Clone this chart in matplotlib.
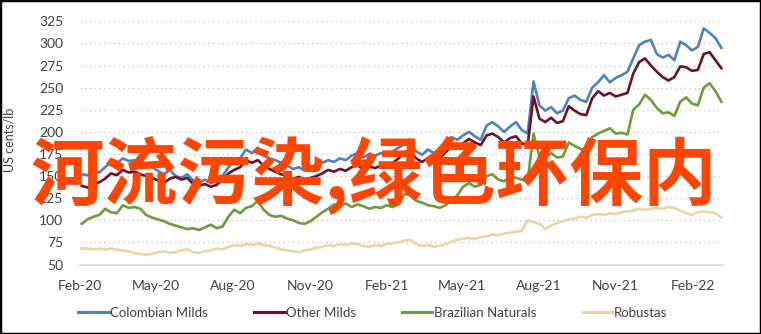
import matplotlib
matplotlib.use("Agg")
import matplotlib.pyplot as plt
import numpy as np
import pandas as pd
from matplotlib.patches import Rectangle

# ---------------- data (weekly readings, US cents/lb) ----------------
start_date = "2020-02-03"
n_weeks = 110

colombian_milds = [
    152, 151, 155, 154, 160, 166, 164, 170, 167, 168,
    165, 163, 160, 156, 152, 157, 150, 148, 152, 145,
    143, 146, 142, 145, 150, 160, 167, 170, 180, 176,
    182, 174, 170, 168, 165, 162, 158, 160, 156, 158,
    162, 165, 168, 166, 170, 168, 173, 176, 171, 175,
    173, 176, 174, 178, 182, 186, 187, 178, 174, 180,
    176, 180, 188, 194, 191, 196, 200, 195, 191, 207,
    211, 206, 200, 206, 211, 202, 198, 257, 230, 224,
    228, 221, 224, 238, 241, 236, 234, 250, 256, 264,
    256, 261, 264, 268, 283, 298, 302, 304, 288, 284,
    287, 281, 302, 298, 292, 296, 317, 312, 306, 295,
]

other_milds = [
    139, 137, 141, 143, 147, 153, 151, 157, 154, 155,
    152, 150, 148, 145, 142, 147, 149, 146, 148, 141,
    139, 141, 138, 140, 146, 153, 157, 160, 168, 165,
    168, 162, 158, 155, 152, 150, 147, 149, 146, 148,
    150, 153, 157, 155, 158, 156, 160, 162, 158, 161,
    159, 162, 160, 165, 170, 177, 178, 170, 166, 170,
    167, 170, 177, 183, 181, 187, 192, 188, 185, 196,
    198, 194, 188, 193, 195, 187, 185, 240, 215, 211,
    216, 210, 212, 229, 224, 220, 219, 238, 246, 241,
    244, 240, 242, 244, 266, 279, 283, 275, 268, 262,
    258, 262, 274, 273, 269, 270, 288, 290, 281, 272,
]

brazilian_naturals = [
    96, 101, 104, 106, 113, 109, 108, 117, 114, 115,
    113, 106, 103, 101, 99, 96, 94, 92, 90, 91,
    89, 92, 95, 91, 93, 104, 112, 108, 114, 116,
    122, 112, 106, 104, 105, 102, 100, 97, 96, 99,
    104, 109, 113, 118, 116, 119, 115, 118, 116, 113,
    115, 114, 117, 115, 118, 130, 128, 122, 120, 117,
    116, 114, 117, 123, 128, 138, 142, 138, 140, 150,
    152, 146, 144, 150, 148, 146, 145, 198, 172, 170,
    176, 171, 172, 188, 184, 181, 177, 194, 198, 201,
    204, 198, 199, 197, 225, 231, 242, 236, 227, 221,
    222, 218, 234, 239, 232, 230, 250, 255, 246, 234,
]

robustas = [
    68, 68, 67, 68, 67, 68, 67, 66, 65, 63,
    62, 61, 62, 64, 65, 63, 64, 66, 67, 64,
    63, 65, 66, 68, 67, 70, 72, 71, 73, 72,
    74, 72, 71, 69, 67, 66, 65, 64, 66, 67,
    69, 70, 72, 71, 73, 72, 74, 73, 71, 70,
    72, 71, 73, 74, 75, 77, 78, 73, 71, 72,
    70, 71, 73, 76, 78, 79, 80, 79, 81, 82,
    84, 83, 85, 86, 87, 88, 100, 98, 96, 90,
    94, 97, 99, 101, 102, 104, 103, 106, 107, 106,
    108, 107, 109, 110, 111, 113, 112, 113, 114, 113,
    115, 114, 111, 108, 106, 109, 110, 109, 108, 103,
]

series_names = ["Colombian Milds", "Other Milds", "Brazilian Naturals", "Robustas"]
series_colors = ["#4F81BD", "#6E1028", "#6E9B3B", "#EBD5A3"]

x_tick_dates = ["2020-02-01", "2020-05-01", "2020-08-01", "2020-11-01",
                "2021-02-01", "2021-05-01", "2021-08-01", "2021-11-01",
                "2022-02-01"]
x_tick_labels = ["Feb-20", "May-20", "Aug-20", "Nov-20", "Feb-21",
                 "May-21", "Aug-21", "Nov-21", "Feb-22"]
y_ticks = [50, 75, 100, 125, 150, 175, 200, 225, 250, 275, 300, 325]
y_label = "US cents/lb"
overlay_text = "河流污染,绿色环保内"

# ---------------- figure ----------------
dates = pd.date_range(start_date, periods=n_weeks, freq="7D")

fig = plt.figure(figsize=(7.61, 3.34), dpi=100)
ax = fig.add_axes([80 / 761, 1 - 264.5 / 334, (723 - 80) / 761, (264.5 - 21.3) / 334])

for vals, name, col in zip([colombian_milds, other_milds, brazilian_naturals, robustas],
                           series_names, series_colors):
    ax.plot(dates, vals, color=col, lw=1.9, label=name, solid_joinstyle="round")

ax.set_ylim(50, 325)
ax.set_xlim(pd.Timestamp("2020-02-01"), pd.Timestamp("2022-03-09"))
ax.set_yticks(y_ticks)
ax.set_yticklabels([str(v) for v in y_ticks])
ax.set_xticks(pd.to_datetime(x_tick_dates))
ax.set_xticklabels(x_tick_labels)

for v in y_ticks[1:]:
    ax.axhline(v, color="#D0D0D0", lw=1.0, ls=(0, (1.2, 2.2)), zorder=0)

for s in ["top", "right", "left"]:
    ax.spines[s].set_visible(False)
ax.spines["bottom"].set_color("#D9D9D9")
ax.spines["bottom"].set_linewidth(1.2)

ax.tick_params(axis="both", length=0, labelsize=10, labelcolor="#404040")
ax.tick_params(axis="y", pad=12)
ax.tick_params(axis="x", pad=11)
for lbl in ax.get_xticklabels() + ax.get_yticklabels():
    lbl.set_fontfamily("Lato")

fig.text(10 / 761, 1 - 140 / 334, y_label, rotation=90, ha="center", va="center",
         fontsize=9, color="#404040", family="Lato")

leg = fig.legend(loc="center", bbox_to_anchor=(373 / 761, 1 - 313 / 334), ncol=4,
                 frameon=False, handlelength=2.3, handletextpad=0.1,
                 columnspacing=3.5, prop={"family": "Lato", "size": 9.5})
for t in leg.get_texts():
    t.set_color("#404040")
for h in leg.get_lines():
    h.set_linewidth(2.2)

fig.text(374 / 761, 1 - 176 / 334, overlay_text, ha="center", va="center",
         fontsize=53, color="#FF4500", fontweight="bold",
         family=["Noto Sans CJK SC", "DejaVu Sans"], zorder=10)

fig.patches.append(Rectangle((0, 0), 1, 1, transform=fig.transFigure, fill=False,
                             edgecolor="black", lw=2.5, zorder=20))

fig.savefig("out.png", dpi=100)
